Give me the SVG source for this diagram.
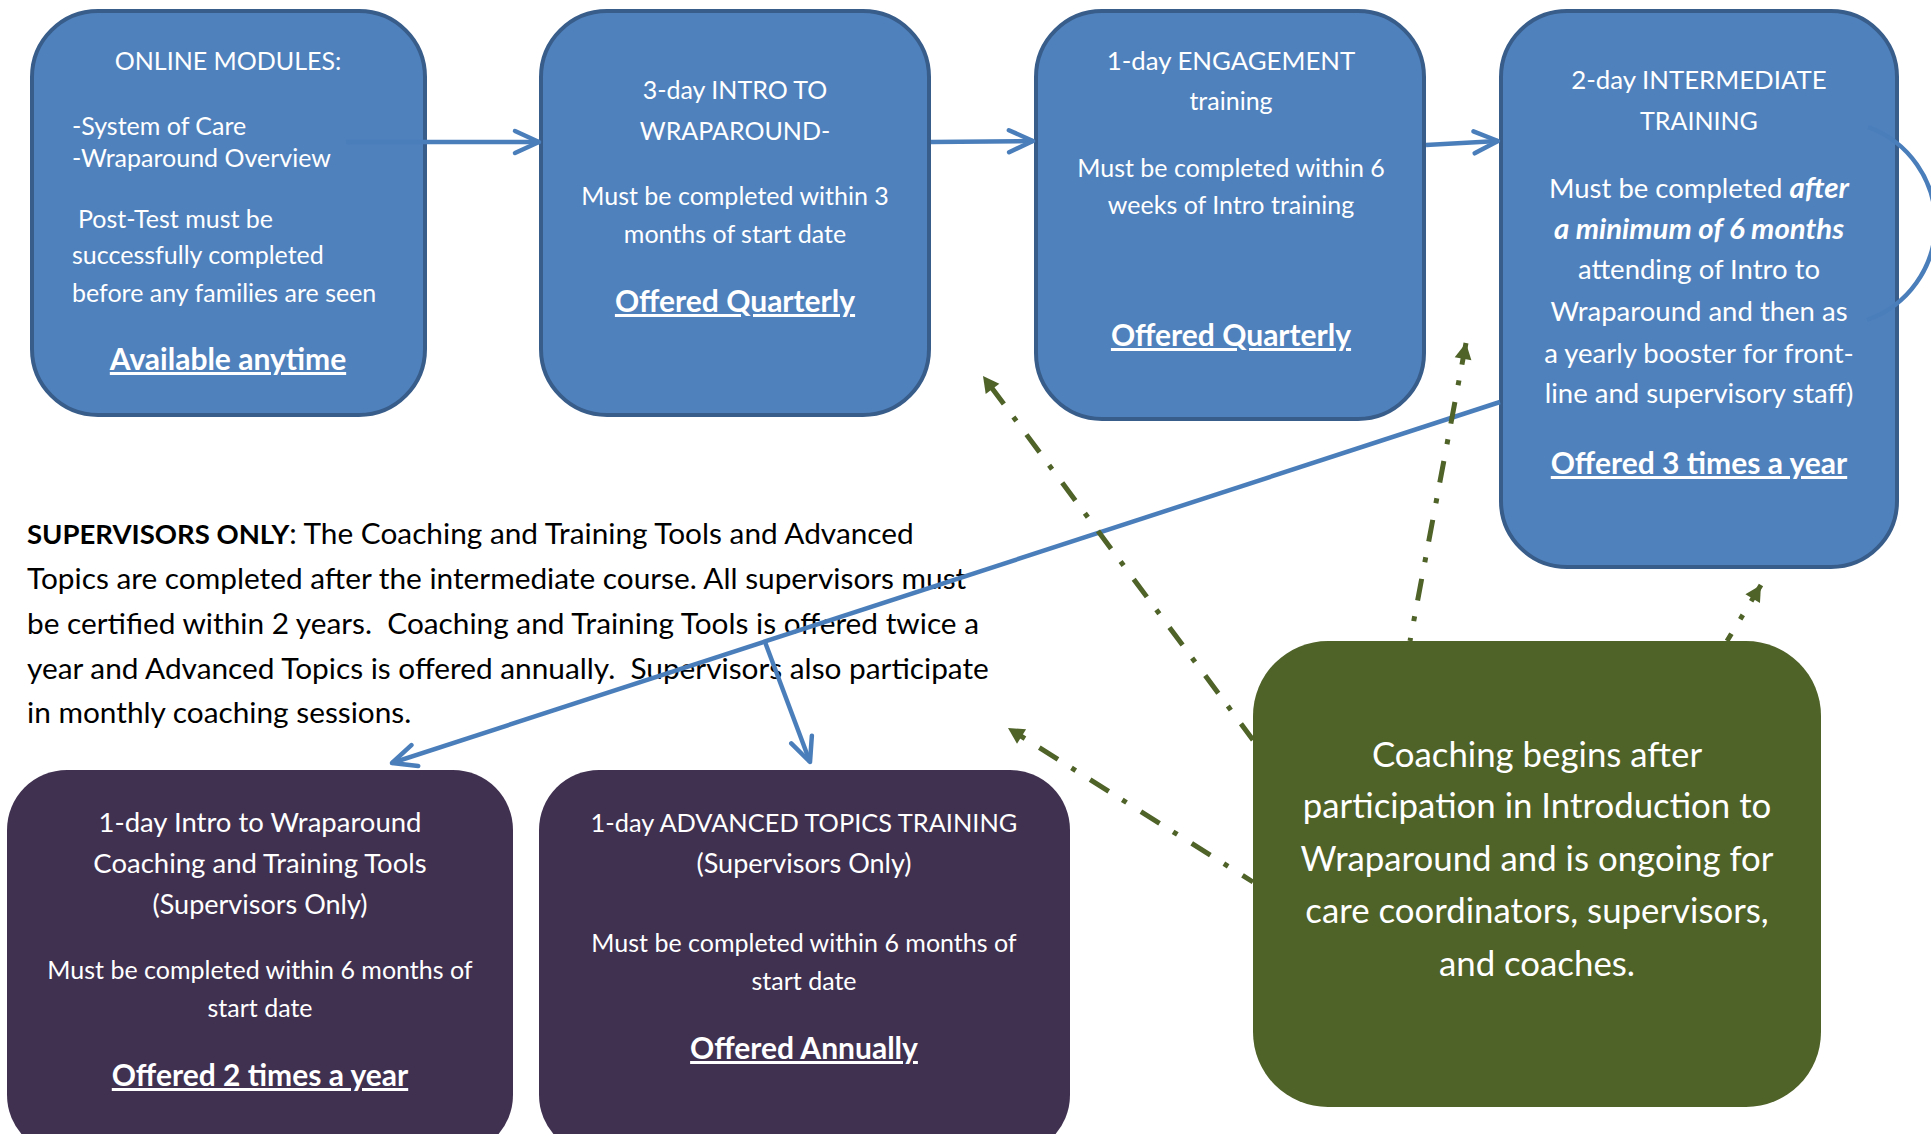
<svg xmlns="http://www.w3.org/2000/svg" width="1931" height="1134" viewBox="0 0 1931 1134">
<defs>
<style>
.blue{fill:#4F81BD;stroke:#385D8A;stroke-width:4}
.purple{fill:#403151}
.green{fill:#4F6228}
.t{font-family:Lato,"Liberation Sans",sans-serif;fill:#fff;font-size:25px}
.m{font-size:27.5px}
.k{font-family:Lato,"Liberation Sans",sans-serif;fill:#000;font-size:29.8px}
.kb{font-weight:bold;font-size:27.5px}
.g{font-family:Lato,"Liberation Sans",sans-serif;fill:#fff;font-size:34.8px}
.c{text-anchor:middle}
.b{font-weight:bold;font-size:30px}
.u{text-decoration:underline}
.bi{font-weight:bold;font-style:italic;font-size:29.4px}
.conn{fill:none;stroke:#4A7EBB;stroke-width:4.5;marker-end:url(#open)}
.arc{fill:none;stroke:#4A7EBB;stroke-width:4.5}
.dd{fill:none;stroke:#4F6228;stroke-width:5;stroke-dasharray:22 16 5 17;marker-start:url(#tri)}
</style>
<marker id="open" markerUnits="userSpaceOnUse" viewBox="-28 -15 32 30" refX="0" refY="0" markerWidth="32" markerHeight="30" orient="auto">
<path d="M-24 -11 L0 0 L-24 11" fill="none" stroke="#4A7EBB" stroke-width="4.5" stroke-linecap="round" stroke-linejoin="round"/>
</marker>
<marker id="tri" markerUnits="userSpaceOnUse" viewBox="-18 -10 19 20" refX="0" refY="0" markerWidth="19" markerHeight="20" orient="auto-start-reverse">
<path d="M0 0 L-16 -8.5 L-16 8.5 Z" fill="#4F6228"/>
</marker>
</defs>
<rect width="1931" height="1134" fill="#fff"/>

<g id="online-modules">
<rect class="blue" x="32" y="11" width="393" height="404" rx="66"/>
<text class="t c" x="228" y="70">ONLINE MODULES:</text>
<text class="t" x="72" y="135">-System of Care</text>
<text class="t" x="72" y="167">-Wraparound Overview</text>
<text class="t" x="78" y="228">Post-Test must be</text>
<text class="t" x="72" y="264">successfully completed</text>
<text class="t" x="72" y="302">before any families are seen</text>
<text class="t c b u" x="228" y="370">Available anytime</text>
</g>

<g id="intro-wraparound">
<rect class="blue" x="541" y="11" width="388" height="404" rx="66"/>
<text class="t c" x="735" y="99">3-day INTRO TO</text>
<text class="t c" x="735" y="140">WRAPAROUND-</text>
<text class="t c" x="735" y="205">Must be completed within 3</text>
<text class="t c" x="735" y="243">months of start date</text>
<text class="t c b u" x="735" y="312">Offered Quarterly</text>
</g>

<g id="engagement">
<rect class="blue" x="1036" y="11" width="388" height="408" rx="66"/>
<text class="t c" x="1231" y="70" style="font-size:25.8px">1-day ENGAGEMENT</text>
<text class="t c" x="1231" y="110">training</text>
<text class="t c" x="1231" y="177">Must be completed within 6</text>
<text class="t c" x="1231" y="214">weeks of Intro training</text>
<text class="t c b u" x="1231" y="346">Offered Quarterly</text>
</g>

<g id="intermediate">
<rect class="blue" x="1501" y="11" width="396" height="556" rx="66"/>
<text class="t c" x="1699" y="89" style="font-size:25.8px">2-day INTERMEDIATE</text>
<text class="t c" x="1699" y="130">TRAINING</text>
<text class="t c m" x="1699" y="198">Must be completed <tspan class="bi">after</tspan></text>
<text class="t c bi" x="1699" y="239">a minimum of 6 months</text>
<text class="t c m" x="1699" y="279">attending of Intro to</text>
<text class="t c m" x="1699" y="321">Wraparound and then as</text>
<text class="t c m" x="1699" y="363">a yearly booster for front-</text>
<text class="t c m" x="1699" y="403">line and supervisory staff)</text>
<text class="t c b u" x="1699" y="474">Offered 3 times a year</text>
</g>

<g id="supervisors-note">
<text class="k" x="27" y="544"><tspan class="kb">SUPERVISORS ONLY</tspan>: The Coaching and Training Tools and Advanced</text>
<text class="k" x="27" y="589">Topics are completed after the intermediate course. All supervisors must</text>
<text class="k" x="27" y="634" xml:space="preserve">be certified within 2 years.  Coaching and Training Tools is offered twice a</text>
<text class="k" x="27" y="679" xml:space="preserve">year and Advanced Topics is offered annually.  Supervisors also participate</text>
<text class="k" x="27" y="723">in monthly coaching sessions.</text>
</g>

<g id="coaching-tools">
<rect class="purple" x="7" y="770" width="506" height="385" rx="60"/>
<text class="t c m" x="260" y="832">1-day Intro to Wraparound</text>
<text class="t c m" x="260" y="873">Coaching and Training Tools</text>
<text class="t c" x="260" y="914" style="font-size:27px">(Supervisors Only)</text>
<text class="t c" x="260" y="979">Must be completed within 6 months of</text>
<text class="t c" x="260" y="1017">start date</text>
<text class="t c b u" x="260" y="1086">Offered 2 times a year</text>
</g>

<g id="advanced-topics">
<rect class="purple" x="539" y="770" width="531" height="385" rx="60"/>
<text class="t c" x="804" y="832" style="font-size:25.4px">1-day ADVANCED TOPICS TRAINING</text>
<text class="t c" x="804" y="873" style="font-size:27px">(Supervisors Only)</text>
<text class="t c" x="804" y="952">Must be completed within 6 months of</text>
<text class="t c" x="804" y="990">start date</text>
<text class="t c b u" x="804" y="1059">Offered Annually</text>
</g>

<g id="coaching">
<rect class="green" x="1253" y="641" width="568" height="466" rx="75"/>
<text class="g c" x="1537" y="767">Coaching begins after</text>
<text class="g c" x="1537" y="818">participation in Introduction to</text>
<text class="g c" x="1537" y="871">Wraparound and is ongoing for</text>
<text class="g c" x="1537" y="923">care coordinators, supervisors,</text>
<text class="g c" x="1537" y="976">and coaches.</text>
</g>

<g id="connectors">
<path class="conn" d="M346 142 L539 142"/>
<path class="conn" d="M931 142 L1033 141"/>
<path class="conn" d="M1426 145 L1498 141"/>
<path class="arc" d="M1868 127 A102.5 102.5 0 0 1 1867 320"/>
<path class="conn" d="M1500 402 L392 763"/>
<path class="conn" d="M765 642 L810 762"/>
<path class="dd" style="stroke-dashoffset:47" d="M983 376 L1253 740"/>
<path class="dd" style="stroke-dashoffset:0" d="M1466 343 L1410 641"/>
<path class="dd" style="stroke-dashoffset:3" d="M1761 585 L1727 641"/>
<path class="dd" style="stroke-dashoffset:23" d="M1008 728 L1253 882"/>
</g>
</svg>
